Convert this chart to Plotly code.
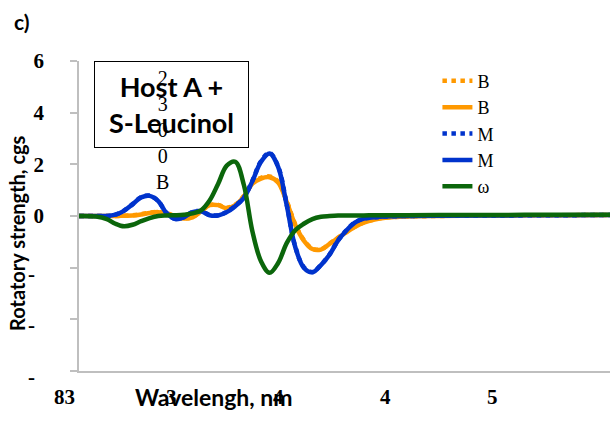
import plotly.graph_objects as go

# Wavelength grid (nm) and rotatory strengths (cgs units) for each model
wavelength = [307, 315, 320, 324, 328, 332, 336, 340, 344, 348, 352, 356, 360, 364,
              368, 372, 376, 380, 384, 388, 392, 396, 400, 404, 408, 412, 416, 420,
              424, 428, 432, 436, 440, 445, 450, 460, 475, 500, 530, 555]

b_dotted = [0.00, 0.00, 0.00, 0.00, 0.01, 0.03, 0.07, 0.13, 0.16, 0.11, -0.01, -0.09,
            -0.04, 0.19, 0.43, 0.43, 0.32, 0.44, 0.78, 1.28, 1.48, 1.53, 1.33, 0.58,
            -0.32, -0.93, -1.26, -1.29, -1.07, -0.84, -0.61, -0.41, -0.25, -0.13,
            -0.06, -0.02, 0.00, 0.02, 0.03, 0.04]
b_solid = [0.00, 0.00, 0.00, 0.00, 0.01, 0.02, 0.06, 0.12, 0.15, 0.10, -0.02, -0.10,
           -0.05, 0.18, 0.42, 0.42, 0.30, 0.42, 0.75, 1.25, 1.45, 1.50, 1.30, 0.55,
           -0.35, -0.95, -1.28, -1.30, -1.08, -0.85, -0.62, -0.42, -0.26, -0.14,
           -0.07, -0.02, 0.00, 0.02, 0.03, 0.04]
m_dotted = [0.00, 0.00, 0.00, 0.05, 0.21, 0.46, 0.73, 0.79, 0.58, 0.11, -0.11, -0.04,
            0.16, 0.19, 0.04, 0.03, 0.16, 0.40, 0.72, 1.37, 2.12, 2.44, 1.92, 0.45,
            -1.18, -1.98, -2.17, -1.89, -1.49, -0.94, -0.54, -0.24, -0.10, -0.05,
            -0.02, 0.00, 0.01, 0.02, 0.03, 0.04]
m_solid = [0.00, 0.00, 0.00, 0.05, 0.20, 0.45, 0.72, 0.78, 0.58, 0.10, -0.12, -0.05,
           0.15, 0.18, 0.03, 0.02, 0.15, 0.38, 0.70, 1.35, 2.10, 2.42, 1.90, 0.42,
           -1.20, -2.00, -2.18, -1.90, -1.50, -0.95, -0.55, -0.25, -0.10, -0.05,
           -0.02, 0.00, 0.01, 0.02, 0.03, 0.04]
omega = [0.00, -0.02, -0.12, -0.30, -0.40, -0.34, -0.20, -0.08, 0.00, 0.02, 0.03, 0.05,
         0.10, 0.22, 0.60, 1.25, 1.95, 2.10, 1.20, -0.60, -1.75, -2.20, -1.82, -1.05,
         -0.55, -0.30, -0.12, -0.03, 0.00, 0.02, 0.02, 0.02, 0.02, 0.03, 0.03, 0.03,
         0.04, 0.04, 0.05, 0.05]

x_range = [307, 555]
y_ticks = [-6, -4, -2, 0, 2, 4, 6]
y_tick_text = ["", "", "", "0", "2", "4", "6"]
x_tick_vals = [300, 350, 400, 450, 500]
x_tick_text = ["83", "3", "4", "4", "5"]

ORANGE = "#FF9900"
BLUE = "#0033CC"
GREEN = "#0B660B"
SERIF = "Liberation Serif"
SANS = "Lato"


def serif_bold(size):
    return dict(family=SERIF, size=size, color="black", weight="bold")


fig = go.Figure()
series = [
    ("B", b_dotted, ORANGE, "dot"),
    ("B", b_solid, ORANGE, "solid"),
    ("M", m_dotted, BLUE, "dot"),
    ("M", m_solid, BLUE, "solid"),
    ("ω", omega, GREEN, "solid"),
]
for name, vals, color, dash in series:
    fig.add_trace(go.Scatter(
        x=wavelength, y=vals, name=name, mode="lines",
        line=dict(color=color, width=4.5, dash=dash, shape="spline", smoothing=1.0),
    ))

annotations = []
# x tick labels (placed in paper space so the first one may sit left of the axis)
for xv, txt in zip(x_tick_vals, x_tick_text):
    xp = (xv - x_range[0]) / (x_range[1] - x_range[0])
    annotations.append(dict(x=xp, y=0, xref="paper", yref="paper", yshift=-26,
                            text=txt, showarrow=False,
                            xanchor="center", yanchor="middle", font=serif_bold(21)))
# negative y tick markers
for yv in [-2, -4, -6]:
    annotations.append(dict(x=-0.090, y=yv, xref="paper", yref="y", yshift=-6,
                            text="-", showarrow=False, xanchor="center",
                            yanchor="middle", font=serif_bold(21)))
# panel label
annotations.append(dict(x=-0.107, y=1.126, xref="paper", yref="paper", text="c)",
                        showarrow=False, xanchor="center", yanchor="middle",
                        font=dict(family=SANS, size=21, color="black", weight="bold")))
# boxed sample label
annotations.append(dict(x=0.174, y=0.860, xref="paper", yref="paper",
                        text="Host A +<br>S-Leucinol", showarrow=False,
                        xanchor="center", yanchor="middle", width=151, height=83,
                        bordercolor="black", borderwidth=1, bgcolor="white",
                        font=dict(family=SANS, size=27, color="black", weight="bold")))
# stacked characters
annotations.append(dict(x=0.158, y=0.778, xref="paper", yref="paper",
                        text="2<br>3<br>0<br>0<br>B", showarrow=False,
                        xanchor="center", yanchor="middle",
                        font=dict(family=SERIF, size=20, color="black")))
# axis titles
annotations.append(dict(x=0.254, y=0, xref="paper", yref="paper", yshift=-26,
                        text="Wavelengh, nm", showarrow=False,
                        xanchor="center", yanchor="middle",
                        font=dict(family=SANS, size=23, color="black", weight="bold")))
annotations.append(dict(x=-0.117, y=0.445, xref="paper", yref="paper",
                        text="Rotatory strength, cgs", showarrow=False, textangle=-90,
                        xanchor="center", yanchor="middle",
                        font=dict(family=SANS, size=20, color="black", weight="bold")))

fig.update_layout(
    width=616, height=421,
    margin=dict(l=79, r=6, t=61, b=50),
    paper_bgcolor="white", plot_bgcolor="white",
    showlegend=True,
    legend=dict(x=0.675, y=0.995, xanchor="left", yanchor="top",
                bgcolor="rgba(0,0,0,0)", tracegroupgap=0,
                font=dict(family=SERIF, size=18, color="black")),
    annotations=annotations,
)
fig.update_xaxes(range=x_range, showline=True, linecolor="#BFBFBF", linewidth=1.5,
                 showgrid=False, zeroline=False, showticklabels=False, ticks="")
fig.update_yaxes(range=[-6, 6], tickvals=y_ticks, ticktext=y_tick_text,
                 showline=True, linecolor="#BFBFBF", linewidth=1.5,
                 ticks="outside", ticklen=7, tickcolor="#BFBFBF", tickwidth=1.5,
                 ticklabelstandoff=22, tickfont=serif_bold(21),
                 showgrid=False, zeroline=False)

fig.write_html("out.html")
